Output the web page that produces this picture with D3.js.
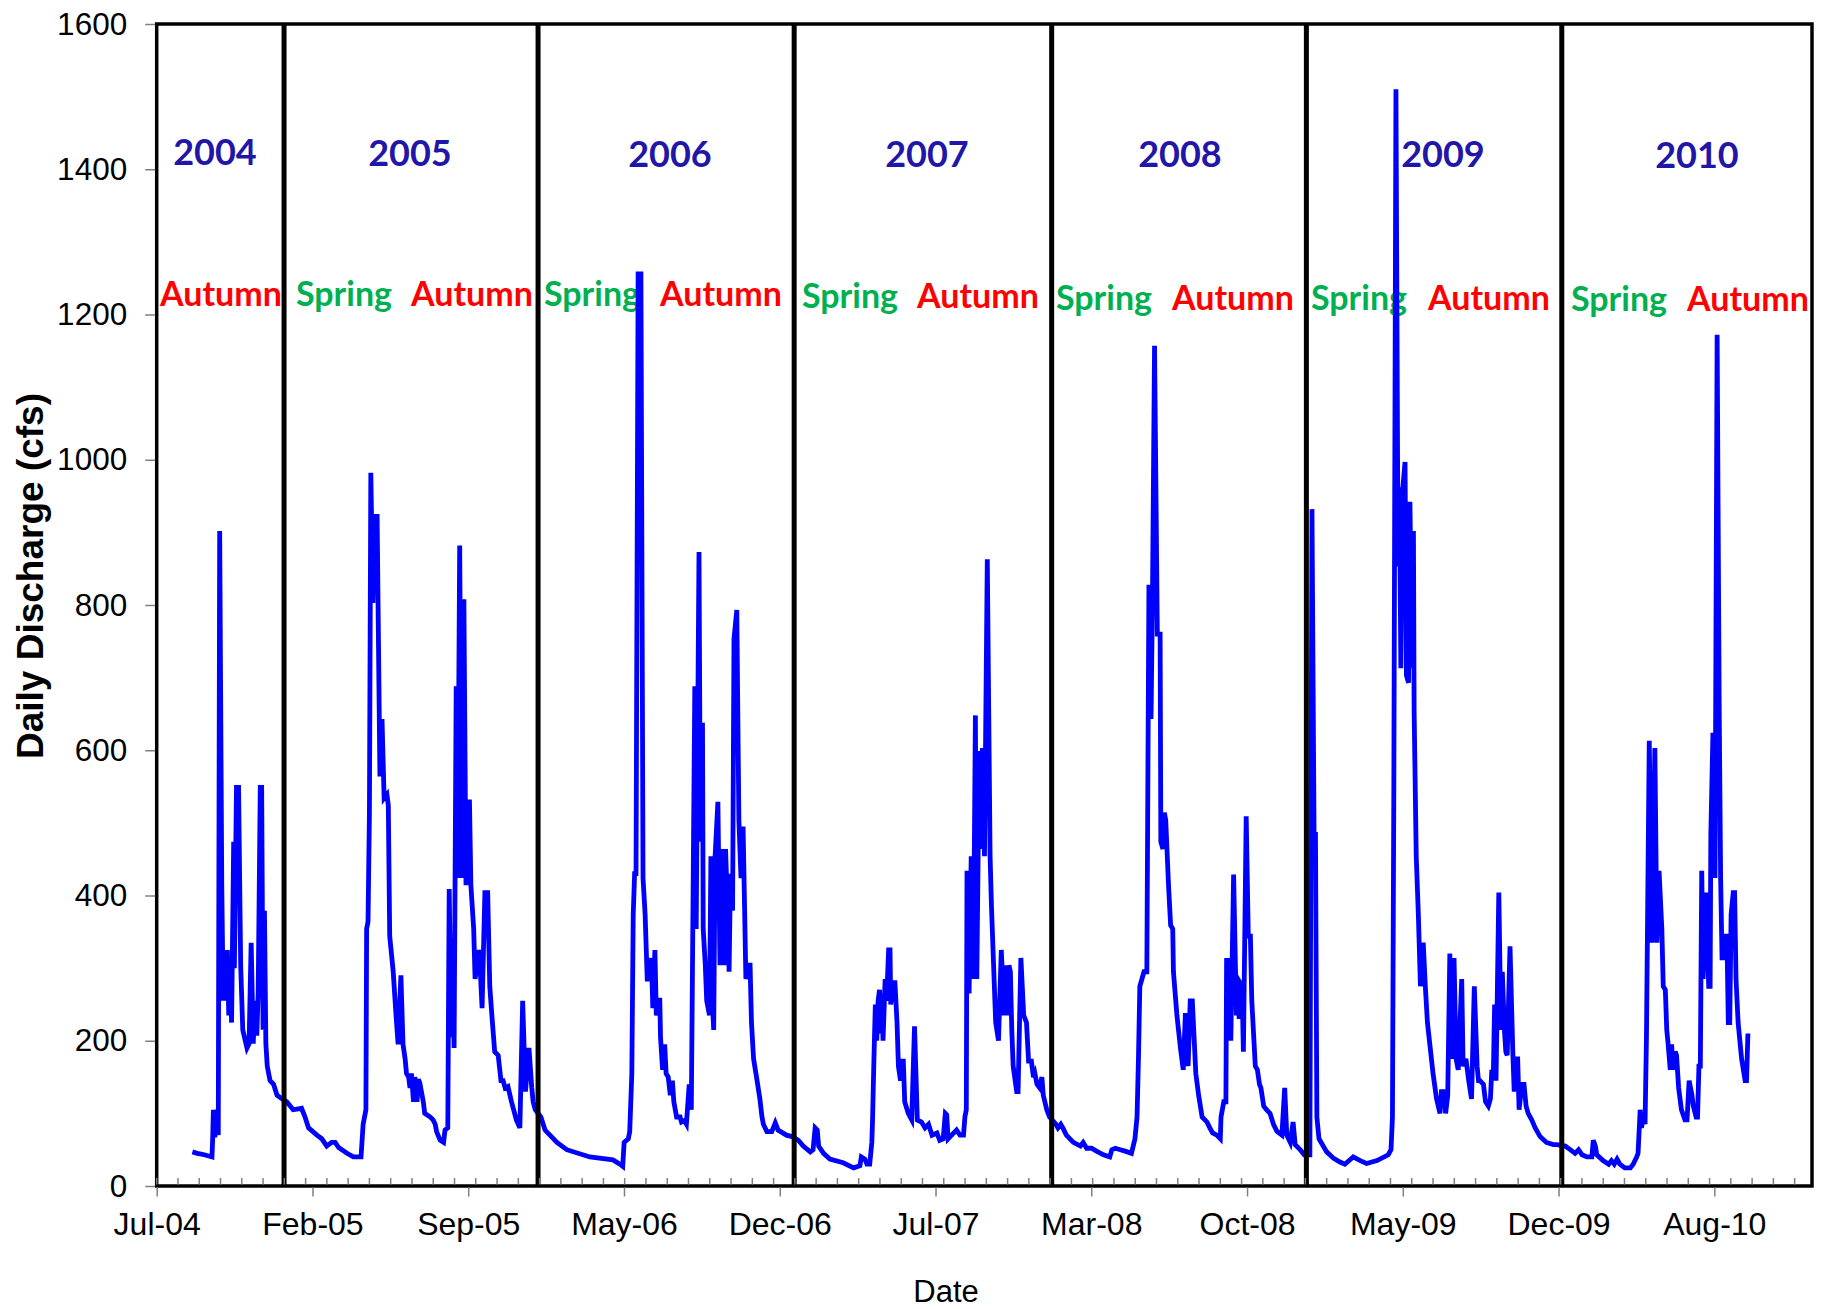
<!DOCTYPE html>
<html><head><meta charset="utf-8">
<script src="https://cdn.jsdelivr.net/npm/d3@7"></script>
<style>body{margin:0;background:#fff}svg{display:block}</style>
</head><body>
<svg id="chart" width="1832" height="1309"></svg>
<script>
// ---- DATA: [day since 2004-07-01, daily discharge (cfs)] ----
const recordStart = "2004-07-01";
const q2004 = [[55,47],[62,45],[72,43],[83,40],[84,65],[85,105],[87,67],[90,105],[92,70],[94,902],[97,414],[99,255],[101,325],[103,255],[105,325],[107,235],[109,297],[111,225],[114,474],[115,300],[118,549],[121,549],[124,304],[127,215],[133,190],[136,196],[139,335],[142,196],[144,255],[147,207],[149,265],[152,549],[154,549],[156,215],[158,379],[160,196],[162,165],[166,145],[171,140],[176,125],[183,120]];
const q2005 = [[190,116],[199,105],[211,107],[216,95],[221,80],[233,70],[240,65],[247,55],[254,60],[259,60],[264,53],[276,45],[285,40],[296,40],[299,85],[303,105],[304,354],[306,364],[308,514],[310,982],[313,803],[316,922],[319,922],[323,564],[326,643],[329,534],[333,539],[335,524],[337,344],[342,295],[346,235],[349,195],[353,290],[356,195],[359,175],[361,155],[364,150],[366,135],[368,155],[371,116],[373,150],[376,116],[378,147],[380,142],[385,116],[387,100],[395,95],[399,91],[402,85],[404,75],[409,63],[414,60],[416,77],[420,80],[422,409],[425,205],[427,275],[429,190],[432,688],[434,424],[437,882],[440,424],[443,808],[446,414],[448,529],[451,529],[453,414],[457,354],[459,285],[465,325],[469,245],[473,404],[477,404],[480,275],[483,235],[487,185],[492,180],[496,145],[499,145],[502,135],[506,137],[511,116],[518,91],[523,80],[527,255],[531,130],[536,190],[540,135],[542,116],[545,105]];
const q2006 = [[553,95],[559,77],[576,60],[590,50],[623,40],[656,36],[666,30],[670,27],[672,60],[678,65],[680,75],[683,155],[685,374],[687,430],[689,430],[692,1256],[696,1256],[699,424],[702,374],[705,285],[709,285],[711,314],[713,245],[716,325],[718,235],[721,256],[723,256],[724,205],[727,160],[730,195],[732,155],[735,150],[738,125],[741,145],[743,116],[747,95],[752,95],[754,88],[758,90],[761,85],[765,140],[768,105],[771,454],[773,688],[775,354],[779,873],[781,474],[784,638],[785,354],[788,304],[790,255],[794,235],[796,454],[798,255],[800,215],[802,454],[806,529],[809,304],[812,464],[815,304],[817,464],[820,374],[822,295],[824,430],[827,379],[829,753],[833,793],[836,504],[839,424],[842,495],[846,285],[850,304],[852,304],[854,225],[857,175],[862,145],[866,120],[869,95],[871,85],[876,75],[883,75],[888,87],[892,77],[904,70],[912,68]];
const q2007 = [[921,63],[928,55],[938,47],[942,50],[945,80],[948,77],[950,55],[957,45],[966,37],[985,32],[1000,25],[1009,28],[1011,40],[1016,37],[1019,30],[1023,30],[1026,60],[1027,90],[1029,175],[1031,250],[1033,200],[1035,255],[1037,270],[1039,210],[1040,265],[1042,200],[1045,285],[1047,255],[1050,325],[1052,325],[1053,250],[1056,280],[1059,280],[1062,225],[1064,165],[1067,145],[1069,172],[1071,172],[1073,116],[1078,100],[1083,91],[1087,220],[1091,91],[1097,88],[1102,80],[1107,85],[1112,70],[1119,73],[1123,63],[1128,65],[1131,100],[1133,98],[1135,65],[1140,70],[1147,77],[1152,70],[1157,70],[1159,95],[1161,105],[1162,434],[1165,265],[1168,454],[1171,285],[1174,648],[1176,285],[1178,464],[1180,599],[1182,464],[1184,603],[1187,454],[1191,863],[1195,454],[1197,384],[1200,304],[1203,225],[1207,200],[1211,325],[1215,235],[1218,304],[1220,235],[1222,304],[1224,295],[1226,215],[1228,165],[1233,130],[1235,130],[1239,314],[1243,235],[1247,225],[1250,172],[1254,172],[1257,150],[1259,155],[1262,140],[1266,135],[1269,150],[1271,125],[1276,105],[1280,95]];
const q2008 = [[1289,85],[1292,80],[1296,85],[1299,80],[1304,70],[1314,60],[1324,55],[1328,60],[1333,52],[1340,52],[1347,48],[1357,43],[1366,40],[1369,50],[1374,52],[1381,50],[1388,48],[1397,45],[1402,65],[1405,95],[1407,175],[1409,275],[1412,285],[1415,295],[1419,295],[1422,828],[1425,643],[1427,803],[1430,1157],[1434,760],[1438,760],[1439,474],[1442,464],[1444,514],[1446,504],[1450,414],[1453,359],[1456,354],[1457,295],[1462,235],[1467,190],[1471,160],[1474,235],[1476,235],[1478,165],[1481,255],[1484,255],[1487,195],[1489,155],[1493,125],[1498,95],[1502,91],[1505,88],[1509,80],[1513,73],[1519,70],[1524,65],[1525,95],[1529,116],[1532,116],[1533,314],[1535,200],[1538,314],[1539,200],[1543,429],[1547,235],[1548,285],[1551,230],[1552,280],[1555,275],[1557,185],[1561,509],[1564,344],[1567,344],[1569,255],[1574,165],[1577,160],[1580,140],[1582,135],[1586,110],[1590,105],[1595,100],[1600,85],[1605,75],[1612,70],[1616,135],[1619,70],[1624,60],[1628,88],[1631,57],[1638,50],[1644,43]];
const q2009 = [[1652,43],[1655,932],[1658,484],[1660,484],[1662,95],[1665,65],[1676,47],[1686,38],[1695,33],[1702,30],[1714,40],[1724,35],[1733,31],[1748,35],[1764,43],[1768,50],[1770,95],[1772,553],[1775,1510],[1778,853],[1780,962],[1782,713],[1784,952],[1788,997],[1790,703],[1793,693],[1795,942],[1798,713],[1800,902],[1801,653],[1804,454],[1807,374],[1810,275],[1814,335],[1817,275],[1820,225],[1824,190],[1828,155],[1833,120],[1838,100],[1840,130],[1844,130],[1846,100],[1849,125],[1852,320],[1855,175],[1858,314],[1861,175],[1864,160],[1869,285],[1871,165],[1875,175],[1879,145],[1883,120],[1887,275],[1891,165],[1893,145],[1895,145],[1900,140],[1903,116],[1907,110],[1910,120],[1912,160],[1914,145],[1916,250],[1918,145],[1922,404],[1925,215],[1927,295],[1930,215],[1932,185],[1934,180],[1938,330],[1942,185],[1944,130],[1947,175],[1949,175],[1951,105],[1955,140],[1958,140],[1961,110],[1964,100],[1969,91],[1974,80],[1981,68],[1990,60],[2000,57],[2005,57]];
const q2010 = [[2017,55],[2024,50],[2031,45],[2036,50],[2041,43],[2048,40],[2055,40],[2057,63],[2060,55],[2062,43],[2071,35],[2079,30],[2083,35],[2087,30],[2091,37],[2095,30],[2102,25],[2110,25],[2114,30],[2119,40],[2121,45],[2124,105],[2126,80],[2129,100],[2131,85],[2133,205],[2137,613],[2141,335],[2145,603],[2148,335],[2151,434],[2155,354],[2157,275],[2160,270],[2162,215],[2164,195],[2167,160],[2169,195],[2171,160],[2174,185],[2176,180],[2179,135],[2183,105],[2188,91],[2191,91],[2194,145],[2198,125],[2200,110],[2204,95],[2206,95],[2208,165],[2210,165],[2212,434],[2214,285],[2218,404],[2222,275],[2224,275],[2225,484],[2228,624],[2231,424],[2234,1172],[2237,653],[2239,424],[2241,314],[2243,314],[2245,344],[2248,344],[2250,225],[2252,225],[2254,374],[2257,404],[2259,404],[2261,285],[2264,225],[2269,175],[2274,145],[2276,145],[2278,210]];

const yTicks = [0,200,400,600,800,1000,1200,1400,1600];
const xAxisStart = "2004-07-05T00:00:00Z";
const xAxisEnd = "2010-12-26T14:00:00Z";
const xMajorStepDays = 222.6;
const xMinorStepDays = 30.4;
const yearNames = ["2004","2005","2006","2007","2008","2009","2010"];
const yearBreaks = ["2005-01-03","2006-01-01","2007-01-02","2008-01-05","2009-01-03","2010-01-03"];
const seasonSpring = ["", "Spring","Spring","Spring","Spring","Spring","Spring"];
const seasonAutumn = ["Autumn","Autumn","Autumn","Autumn","Autumn","Autumn","Autumn"];

// ---- LAYOUT ----
const L = 156.7, R = 1812, T = 24, B = 1186;
const yearLabelX = [215, 410, 670, 927, 1180, 1443, 1697];
const yearLabelY = [165, 166, 167, 167, 167, 167, 168];
const springX = [null, 344, 592, 850, 1104, 1359, 1619];
const autumnX = [160, 472, 721, 978, 1233, 1489, 1748];
const seasonY = [306, 306, 306, 308, 310, 310, 311];

const svg = d3.select("#chart");
const epoch = Date.parse(recordStart + "T00:00:00Z");
const dayToDate = d => new Date(epoch + d * 864e5);
const series = [].concat(q2004, q2005, q2006, q2007, q2008, q2009, q2010)
  .map(([d, v]) => ({date: dayToDate(d), v}));

const xMin = new Date(xAxisStart), xMax = new Date(xAxisEnd);
const x = d3.scaleUtc().domain([xMin, xMax]).range([L, R]);
const y = d3.scaleLinear().domain([0, 1600]).range([B, T]);

// annotations (text under the line)
const gTxt = svg.append("g").attr("font-family", "Lato, 'Open Sans', sans-serif").attr("font-weight", 700);
yearNames.forEach((n, i) => {
  gTxt.append("text").attr("x", yearLabelX[i]).attr("y", yearLabelY[i])
    .attr("text-anchor", "middle").attr("font-size", 36).attr("fill", "#2216A8").text(n);
  if (seasonSpring[i]) gTxt.append("text").attr("x", springX[i]).attr("y", seasonY[i])
    .attr("text-anchor", "middle").attr("font-size", 34).attr("fill", "#00B050").text(seasonSpring[i]);
  gTxt.append("text").attr("x", autumnX[i]).attr("y", seasonY[i])
    .attr("text-anchor", i === 0 ? "start" : "middle").attr("font-size", 34).attr("fill", "#FF0000").text(seasonAutumn[i]);
});

// discharge line
const line = d3.line().x(d => x(d.date)).y(d => y(d.v));
svg.append("path").datum(series).attr("d", line)
  .attr("fill", "none").attr("stroke", "#0000FF").attr("stroke-width", 4.8)
  .attr("stroke-linejoin", "miter").attr("stroke-miterlimit", 4);

// year separators
svg.append("g").selectAll("line").data(yearBreaks).join("line")
  .attr("x1", d => x(new Date(d + "T00:00:00Z"))).attr("x2", d => x(new Date(d + "T00:00:00Z")))
  .attr("y1", T).attr("y2", B).attr("stroke", "#000").attr("stroke-width", 5);

// frame
svg.append("rect").attr("x", L).attr("y", T).attr("width", R - L).attr("height", B - T)
  .attr("fill", "none").attr("stroke", "#000").attr("stroke-width", 3.5);

// y axis
const yAxis = d3.axisLeft(y).tickValues(yTicks).tickSize(10).tickPadding(18).tickFormat(d3.format("d"));
const gy = svg.append("g").attr("transform", `translate(${L - 1.5},0)`).call(yAxis);
gy.select(".domain").remove();
gy.selectAll(".tick line").attr("stroke", "#808080").attr("stroke-width", 1.5);
gy.selectAll(".tick text").attr("font-family", "'Liberation Sans', Arial, sans-serif").attr("font-size", 31.5).attr("fill", "#000");

// x axis
const majors = d3.range(0, 11).map(k => new Date(xMin.getTime() + k * xMajorStepDays * 864e5));
const xAxis = d3.axisBottom(x).tickValues(majors).tickSize(9).tickPadding(16).tickFormat(d3.utcFormat("%b-%y"));
const gx = svg.append("g").attr("transform", `translate(0,${B + 1.5})`).call(xAxis);
gx.select(".domain").remove();
gx.selectAll(".tick line").attr("stroke", "#808080").attr("stroke-width", 1.5);
gx.selectAll(".tick text").attr("font-family", "'Liberation Sans', Arial, sans-serif").attr("font-size", 32).attr("fill", "#000");

const spanDays = (xMax - xMin) / 864e5;
const minors = d3.range(0, spanDays, xMinorStepDays).map(d => new Date(xMin.getTime() + d * 864e5));
svg.append("g").selectAll("line").data(minors).join("line")
  .attr("x1", d => x(d)).attr("x2", d => x(d)).attr("y1", B - 1.5).attr("y2", B - 8)
  .attr("stroke", "#808080").attr("stroke-width", 1.5);

// axis titles
svg.append("text").attr("x", 946).attr("y", 1302).attr("text-anchor", "middle")
  .attr("font-family", "'Liberation Sans', Arial, sans-serif").attr("font-size", 31).text("Date");
svg.append("text").attr("transform", "translate(43,576) rotate(-90)").attr("text-anchor", "middle")
  .attr("font-family", "'Liberation Sans', Arial, sans-serif").attr("font-weight", 700).attr("font-size", 37)
  .text("Daily Discharge (cfs)");
</script>
</body></html>
